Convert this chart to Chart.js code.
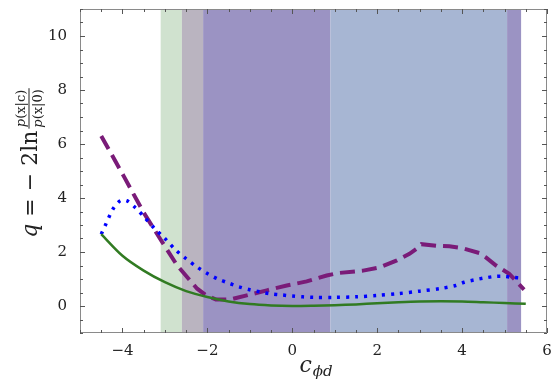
<!DOCTYPE html>
<html>
<head>
<meta charset="utf-8">
<script src="https://cdn.jsdelivr.net/npm/chart.js@4/dist/chart.umd.min.js"></script>
<style>
  html,body{margin:0;padding:0;background:#fff;}
  canvas{display:block;}
</style>
</head>
<body>
<canvas id="chart" width="552" height="379"></canvas>
<script>
// axis ticks
const xTicks = [-4, -2, 0, 2, 4, 6];
const yTicks = [0, 2, 4, 6, 8, 10];

// shaded intervals along c
const bandFrom   = [-3.1, -2.6, -2.1, 0.9, 5.06];
const bandTo     = [-2.6, -2.1, 0.9, 5.06, 5.39];
const bandColors = ['#d0e2cf', '#bab4c0', '#9b93c3', '#a7b6d3', '#9b93c3'];

// q(c) curves
const solidX  = [-4.5, -4.0, -3.5, -3.0, -2.5, -2.0, -1.5, -1.0, -0.5, 0.0, 0.5, 1.0, 1.5, 2.0, 2.5, 3.0, 3.5, 4.0, 4.5, 5.0, 5.5];
const solidY  = [2.66, 1.86, 1.31, 0.88, 0.55, 0.33, 0.17, 0.07, 0.02, 0.0, 0.01, 0.03, 0.06, 0.1, 0.14, 0.17, 0.18, 0.17, 0.14, 0.11, 0.08];

const dottedX = [-4.5, -4.4, -4.3, -4.2, -4.05, -3.9, -3.7, -3.5, -3.25, -3.0, -2.75, -2.5, -2.25, -2.0, -1.75, -1.5, -1.25, -1.0, -0.75, -0.5, -0.25, 0.0, 0.25, 0.5, 1.0, 1.5, 2.0, 2.5, 3.0, 3.5, 3.85, 4.05, 4.3, 4.5, 4.75, 4.95, 5.2, 5.4];
const dottedY = [2.66, 3.0, 3.35, 3.65, 3.9, 3.9, 3.65, 3.32, 2.88, 2.5, 2.08, 1.75, 1.45, 1.2, 1.0, 0.85, 0.71, 0.6, 0.52, 0.45, 0.41, 0.37, 0.34, 0.32, 0.32, 0.34, 0.39, 0.46, 0.55, 0.65, 0.76, 0.88, 0.97, 1.03, 1.09, 1.1, 1.06, 1.03];

const dashedX = [-4.5, -3.97, -3.5, -3.11, -2.71, -2.24, -2.05, -1.8, -1.46, -1.0, -0.6, -0.13, 0.34, 0.81, 1.08, 1.67, 2.06, 2.45, 2.76, 2.92, 3.04, 3.39, 3.7, 4.01, 4.41, 4.56, 4.8, 5.11, 5.46];
const dashedY = [6.3, 4.81, 3.46, 2.48, 1.5, 0.64, 0.42, 0.24, 0.24, 0.42, 0.58, 0.76, 0.91, 1.13, 1.22, 1.31, 1.43, 1.68, 1.93, 2.11, 2.29, 2.23, 2.21, 2.14, 1.96, 1.8, 1.5, 1.19, 0.61];

const pts = (xs, ys) => xs.map((x, i) => ({x, y: ys[i]}));

const SERIF = '"DejaVu Serif", "Liberation Serif", serif';
const frameColor = '#8a8a8a';

// bands, boxed frame with inward ticks, axis titles
const decor = {
  id: 'decor',
  beforeDatasetsDraw(chart){
    const {ctx, chartArea:a, scales:{x}} = chart;
    ctx.save();
    bandFrom.forEach((f, i) => {
      const x0 = x.getPixelForValue(f), x1 = x.getPixelForValue(bandTo[i]);
      ctx.fillStyle = bandColors[i];
      ctx.fillRect(x0, a.top, x1 - x0, a.bottom - a.top);
    });
    ctx.restore();
  },
  afterDatasetsDraw(chart){
    const {ctx, chartArea:a, scales:{x, y}} = chart;
    ctx.save();
    ctx.strokeStyle = frameColor;
    ctx.lineWidth = 1;
    ctx.strokeRect(a.left + 0.5, a.top + 0.5, a.right - a.left - 1, a.bottom - a.top - 1);
    ctx.strokeStyle = '#555';
    ctx.beginPath();
    for (let v = x.min; v <= x.max + 1e-9; v += 0.5) {
      const px = Math.round(x.getPixelForValue(v)) + 0.5;
      const len = Math.abs(v % 2) < 1e-9 ? 5 : 3;
      ctx.moveTo(px, a.bottom); ctx.lineTo(px, a.bottom - len);
      ctx.moveTo(px, a.top); ctx.lineTo(px, a.top + len);
    }
    for (let v = y.min; v <= y.max + 1e-9; v += 0.5) {
      const py = Math.round(y.getPixelForValue(v)) + 0.5;
      const len = Math.abs(v % 2) < 1e-9 ? 5 : 3;
      ctx.moveTo(a.left, py); ctx.lineTo(a.left + len, py);
      ctx.moveTo(a.right, py); ctx.lineTo(a.right - len, py);
    }
    ctx.stroke();
    ctx.restore();
  },
  afterDraw(chart){
    const {ctx, chartArea:a} = chart;
    ctx.save();
    ctx.fillStyle = '#222';
    ctx.textBaseline = 'alphabetic';

    // x title: c with subscript phi d
    const big = 'italic 22px ' + SERIF, sub = 'italic 15px ' + SERIF;
    ctx.font = big; const wc = ctx.measureText('c').width;
    ctx.font = sub; const ws = ctx.measureText('ϕd').width;
    let sx = (a.left + a.right) / 2 - (wc + ws) / 2 + 2;
    ctx.font = big; ctx.fillText('c', sx, 372);
    ctx.font = sub; ctx.fillText('ϕd', sx + wc + 1, 376);

    // y title: q = -2 ln p(x|c)/p(x|0), rotated
    ctx.translate(37, (a.top + a.bottom) / 2 - 8);
    ctx.rotate(-Math.PI / 2);
    const mainIt = 'italic 22px ' + SERIF, main = '22px ' + SERIF;
    const fr = '13px ' + SERIF, frIt = 'italic 13px ' + SERIF;
    const parts = [[mainIt, 'q'], [main, ' = − 2ln']];
    let total = 0;
    parts.forEach(p => { ctx.font = p[0]; total += ctx.measureText(p[1]).width; });
    ctx.font = fr;
    const fw = Math.max(ctx.measureText('p(x|c)').width, ctx.measureText('p(x|0)').width) + 2;
    total += fw + 2;
    let cx = -total / 2;
    parts.forEach(p => { ctx.font = p[0]; ctx.fillText(p[1], cx, 0); cx += ctx.measureText(p[1]).width; });
    cx += 2;
    const frac = (txt, base) => {
      ctx.font = fr;
      const w = ctx.measureText(txt).width;
      let fx = cx + (fw - w) / 2;
      ctx.font = frIt; ctx.fillText('p', fx, base); fx += ctx.measureText('p').width;
      ctx.font = fr; ctx.fillText(txt.slice(1), fx, base);
    };
    frac('p(x|c)', -12);
    frac('p(x|0)', 5);
    ctx.fillRect(cx, -8.5, fw, 1);
    ctx.restore();
  }
};

new Chart(document.getElementById('chart'), {
  type: 'line',
  data: {
    datasets: [
      { data: pts(solidX, solidY), borderColor: '#317b22', borderWidth: 2.5,
        pointRadius: 0, tension: 0.3, fill: false },
      { data: pts(dottedX, dottedY), borderColor: '#0000ff', borderWidth: 3.5,
        borderDash: [3, 6], pointRadius: 0, tension: 0.3, fill: false },
      { data: pts(dashedX, dashedY), borderColor: '#7a1b78', borderWidth: 4,
        borderDash: [15, 7], pointRadius: 0, tension: 0, fill: false }
    ]
  },
  options: {
    responsive: false,
    animation: false,
    devicePixelRatio: 1,
    layout: { padding: { top: 9, right: 5, left: 0, bottom: 0 } },
    plugins: { legend: { display: false }, tooltip: { enabled: false } },
    scales: {
      x: {
        type: 'linear', min: -5, max: 6,
        grid: { display: false }, border: { display: false },
        ticks: { color: '#222', padding: 1, maxRotation: 0,
                 font: { family: SERIF, size: 15 },
                 callback: v => v < 0 ? '−' + Math.abs(v) : String(v) },
        afterBuildTicks: s => { s.ticks = xTicks.map(v => ({value: v})); },
        afterFit: s => { s.height = 46; s.paddingLeft = 0; s.paddingRight = 0; }
      },
      y: {
        type: 'linear', min: -1, max: 11,
        grid: { display: false }, border: { display: false },
        ticks: { color: '#222', padding: 5,
                 font: { family: SERIF, size: 15 } },
        afterBuildTicks: s => { s.ticks = yTicks.map(v => ({value: v})); },
        afterFit: s => { s.width = 80; s.paddingTop = 0; s.paddingBottom = 0; }
      }
    }
  },
  plugins: [decor]
});
</script>
</body>
</html>
